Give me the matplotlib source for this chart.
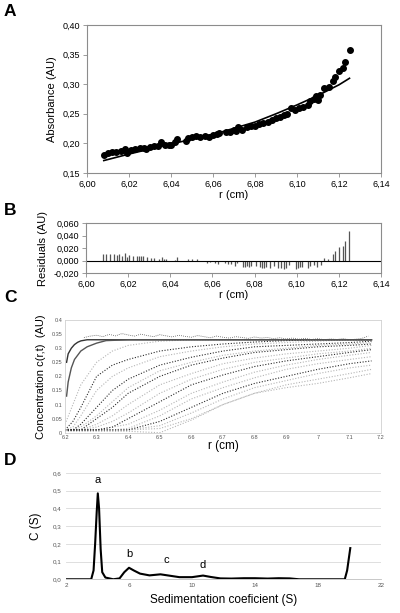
import matplotlib
matplotlib.use('Agg')
import matplotlib.pyplot as plt
from matplotlib.ticker import FuncFormatter
import matplotlib.transforms as mtransforms

plt.rcParams['font.family'] = ['Liberation Sans', 'DejaVu Sans']

# ---- panel A: absorbance scan and fit
a_r = [6.008, 6.010, 6.012, 6.014, 6.016, 6.018, 6.019, 6.021, 6.023, 6.025,
       6.027, 6.028, 6.030, 6.032, 6.034, 6.035, 6.037, 6.039, 6.040, 6.042,
       6.043, 6.047, 6.048, 6.050, 6.052, 6.054, 6.056, 6.058, 6.060, 6.062,
       6.063, 6.066, 6.068, 6.070, 6.071, 6.072, 6.074, 6.076, 6.078, 6.080,
       6.082, 6.084, 6.086, 6.088, 6.090, 6.092, 6.094, 6.095, 6.097, 6.099,
       6.101, 6.103, 6.105, 6.106, 6.108, 6.109, 6.110, 6.111, 6.113, 6.115,
       6.117, 6.118, 6.120, 6.122, 6.123, 6.125]
a_abs = [0.181, 0.183, 0.185, 0.185, 0.187, 0.190, 0.184, 0.189, 0.191, 0.192,
         0.193, 0.190, 0.194, 0.195, 0.196, 0.202, 0.198, 0.197, 0.198, 0.203,
         0.207, 0.204, 0.209, 0.211, 0.212, 0.211, 0.213, 0.211, 0.214, 0.216,
         0.217, 0.219, 0.220, 0.222, 0.221, 0.228, 0.222, 0.227, 0.230, 0.230,
         0.232, 0.235, 0.236, 0.240, 0.243, 0.245, 0.248, 0.250, 0.259, 0.256,
         0.260, 0.262, 0.265, 0.272, 0.275, 0.280, 0.274, 0.282, 0.293, 0.295,
         0.306, 0.313, 0.322, 0.328, 0.337, 0.357]
fit_r = [6.008, 6.02, 6.04, 6.06, 6.08, 6.09, 6.10, 6.11, 6.12, 6.125]
fit_abs = [0.171, 0.182, 0.199, 0.215, 0.236, 0.250, 0.265, 0.281, 0.299, 0.310]

# ---- panel B: residuals
b_r = [6.008, 6.0095, 6.0115, 6.0135, 6.0145, 6.0155, 6.0172, 6.0185, 6.0195, 6.0205,
       6.0225, 6.024, 6.025, 6.026, 6.0272, 6.029, 6.031, 6.0325, 6.0345, 6.0362,
       6.037, 6.038, 6.042, 6.043, 6.0485, 6.0505, 6.0525,
       6.0575, 6.059, 6.061, 6.0625, 6.066, 6.0675, 6.069, 6.0705, 6.0715, 6.0745,
       6.0755, 6.0765, 6.0775, 6.0785, 6.0805, 6.0825, 6.0835, 6.0845, 6.0855, 6.0875,
       6.089, 6.091, 6.0925, 6.094, 6.095, 6.0965, 6.0995, 6.1005, 6.1015, 6.1025,
       6.1055, 6.1065, 6.108, 6.1095, 6.1115,
       6.1130, 6.1150, 6.1170, 6.1180, 6.1200, 6.1220, 6.1230, 6.1250]
b_res = [0.010, 0.011, 0.010, 0.011, 0.009, 0.011, 0.008, 0.012, 0.006, 0.009,
         0.008, 0.008, 0.007, 0.008, 0.007, 0.005, 0.004, 0.004, 0.003, 0.006,
         0.002, 0.002, 0.001, 0.005, 0.003, 0.003, 0.002,
         -0.004, -0.002, -0.004, -0.005, -0.004, -0.006, -0.006, -0.008, -0.004, -0.011,
         -0.010, -0.009, -0.010, -0.009, -0.009, -0.011, -0.012, -0.012, -0.011, -0.012,
         -0.009, -0.012, -0.012, -0.013, -0.012, -0.007, -0.014, -0.012, -0.010, -0.011,
         -0.012, -0.008, -0.007, -0.011, -0.007,
         0.004, 0.002, 0.010, 0.015, 0.022, 0.024, 0.031, 0.048]

# ---- panel C: sedimentation velocity scans
c_r = [6.20, 6.225, 6.25, 6.30, 6.35, 6.40, 6.50, 6.60, 6.70, 6.80, 6.90, 7.00, 7.10, 7.17]
scans_dark = [
    [0.01, 0.04, 0.09, 0.20, 0.24, 0.26, 0.29, 0.305, 0.315, 0.322, 0.327, 0.33, 0.33, 0.33],
    [0.01, 0.01, 0.03, 0.09, 0.15, 0.19, 0.24, 0.268, 0.29, 0.305, 0.31, 0.315, 0.32, 0.325],
    [0.01, 0.01, 0.01, 0.05, 0.09, 0.14, 0.20, 0.24, 0.265, 0.285, 0.295, 0.305, 0.31, 0.315],
    [0.01, 0.01, 0.01, 0.01, 0.02, 0.05, 0.11, 0.17, 0.205, 0.235, 0.255, 0.27, 0.285, 0.295],
    [0.01, 0.01, 0.01, 0.01, 0.01, 0.01, 0.04, 0.09, 0.14, 0.175, 0.20, 0.225, 0.245, 0.255],
]
scans_light = [
    [0.03, 0.10, 0.17, 0.25, 0.29, 0.31, 0.325, 0.33, 0.33, 0.33, 0.33, 0.33, 0.33, 0.33],
    [0.01, 0.02, 0.06, 0.15, 0.20, 0.23, 0.27, 0.29, 0.305, 0.315, 0.32, 0.325, 0.33, 0.33],
    [0.01, 0.01, 0.02, 0.06, 0.11, 0.16, 0.22, 0.25, 0.275, 0.29, 0.30, 0.31, 0.315, 0.32],
    [0.01, 0.01, 0.01, 0.03, 0.06, 0.10, 0.17, 0.21, 0.245, 0.265, 0.28, 0.29, 0.30, 0.31],
    [0.01, 0.01, 0.01, 0.02, 0.04, 0.07, 0.14, 0.19, 0.225, 0.25, 0.265, 0.28, 0.29, 0.30],
    [0.01, 0.01, 0.01, 0.01, 0.02, 0.03, 0.08, 0.14, 0.18, 0.215, 0.24, 0.26, 0.275, 0.285],
    [0.01, 0.01, 0.01, 0.01, 0.01, 0.015, 0.06, 0.12, 0.16, 0.195, 0.225, 0.245, 0.26, 0.27],
    [0.01, 0.01, 0.01, 0.01, 0.01, 0.01, 0.025, 0.07, 0.12, 0.16, 0.185, 0.21, 0.23, 0.24],
    [0.01, 0.01, 0.01, 0.01, 0.01, 0.01, 0.015, 0.05, 0.10, 0.14, 0.17, 0.19, 0.21, 0.225],
    [0.005, 0.005, 0.005, 0.005, 0.005, 0.005, 0.0, 0.045, 0.10, 0.14, 0.16, 0.175, 0.195, 0.21],
]
first_r = [6.205, 6.21, 6.22, 6.23, 6.24, 6.25, 6.27, 6.30, 6.35, 7.17]
first_c = [0.25, 0.28, 0.30, 0.313, 0.321, 0.326, 0.33, 0.33, 0.33, 0.33]
second_r = [6.205, 6.21, 6.22, 6.23, 6.25, 6.27, 6.30, 6.33, 6.40, 7.17]
second_c = [0.13, 0.18, 0.23, 0.26, 0.29, 0.305, 0.318, 0.327, 0.33, 0.33]
top_r = [6.26, 6.28, 6.30, 6.32, 6.34, 6.36, 6.38, 6.40, 6.42, 6.44, 6.46, 6.48, 6.50,
         6.52, 6.54, 6.56, 6.58, 6.60, 6.62, 6.64, 6.66, 6.68, 6.70, 6.72, 6.74, 6.76,
         6.78, 6.80, 6.82, 6.84, 6.86, 6.88, 6.90, 6.92, 6.94, 6.96, 6.98, 7.00, 7.02,
         7.04, 7.06, 7.08, 7.10, 7.12, 7.14, 7.16]
top_c = [0.338, 0.343, 0.346, 0.341, 0.349, 0.344, 0.352, 0.347, 0.343, 0.350, 0.345, 0.341, 0.348,
         0.344, 0.340, 0.346, 0.342, 0.339, 0.345, 0.341, 0.337, 0.343, 0.339, 0.336, 0.341, 0.338,
         0.335, 0.340, 0.336, 0.338, 0.334, 0.337, 0.333, 0.336, 0.332, 0.335, 0.331, 0.334, 0.330,
         0.333, 0.331, 0.334, 0.330, 0.332, 0.335, 0.343]

# ---- panel D: c(s) distribution
d_s = [2.0, 3.6, 3.75, 3.85, 3.95, 4.02, 4.1, 4.2, 4.3, 4.5, 5.0, 5.4, 5.7, 6.0, 6.3,
       6.7, 7.3, 8.0, 8.6, 9.2, 10.0, 10.7, 11.2, 11.8, 12.5, 13.3, 14.0, 14.8, 15.5,
       16.2, 16.8, 19.7, 19.85, 20.05]
d_c = [0.0, 0.0, 0.05, 0.20, 0.38, 0.485, 0.40, 0.17, 0.04, 0.01, 0.0, 0.005, 0.04, 0.065, 0.05,
       0.032, 0.022, 0.028, 0.020, 0.012, 0.012, 0.021, 0.013, 0.005, 0.004, 0.006, 0.006, 0.004, 0.006,
       0.005, 0.0, 0.0, 0.05, 0.176]
peak_names = ['a', 'b', 'c', 'd']
peak_s = [4.0, 6.0, 8.4, 10.65]
peak_c = [0.53, 0.115, 0.08, 0.052]

frame = '#8c8c8c'
comma2 = FuncFormatter(lambda v, p: ('%.2f' % v).replace('.', ','))
comma3 = FuncFormatter(lambda v, p: ('%.3f' % v).replace('.', ','))
comma1 = FuncFormatter(lambda v, p: ('%.1f' % v).replace('.', ','))

fig = plt.figure(figsize=(4.0, 6.13), dpi=100)

# A
axA = fig.add_axes([0.2175, 0.7178, 0.735, 0.2414])
axA.plot(fit_r, fit_abs, color='black', lw=1.2)
axA.scatter(a_r, a_abs, s=16, color='black', zorder=3)
axA.set_xlim(6.0, 6.14)
axA.set_ylim(0.15, 0.40)
axA.set_xticks([6.00, 6.02, 6.04, 6.06, 6.08, 6.10, 6.12, 6.14])
axA.set_yticks([0.15, 0.20, 0.25, 0.30, 0.35, 0.40])
axA.xaxis.set_major_formatter(comma2)
axA.yaxis.set_major_formatter(comma2)
axA.set_xlabel('r (cm)', fontsize=8, labelpad=1)
axA.set_ylabel('Absorbance (AU)', fontsize=8, labelpad=4)

# B
axB = fig.add_axes([0.215, 0.5546, 0.7375, 0.0816])
axB.vlines(b_r, 0, b_res, colors='#555555', lw=0.9)
axB.axhline(0, color='black', lw=0.8)
axB.set_xlim(6.0, 6.14)
axB.set_ylim(-0.020, 0.060)
axB.set_xticks([6.00, 6.02, 6.04, 6.06, 6.08, 6.10, 6.12, 6.14])
axB.set_yticks([-0.02, 0.0, 0.02, 0.04, 0.06])
axB.xaxis.set_major_formatter(comma2)
axB.yaxis.set_major_formatter(comma3)
shift = mtransforms.ScaledTranslation(8 / 100, 0, fig.dpi_scale_trans)
for lab in axB.get_xticklabels():
    lab.set_transform(lab.get_transform() + shift)
axB.set_xlabel('r (cm)', fontsize=8, labelpad=1)
axB.set_ylabel('Residuals (AU)', fontsize=8, labelpad=4)

for ax in (axA, axB):
    for sp in ax.spines.values():
        sp.set_color(frame)
        sp.set_linewidth(0.8)
    ax.tick_params(labelsize=6.5, length=3, width=0.6, color=frame, pad=2)

# C
axC = fig.add_axes([0.1625, 0.2941, 0.79, 0.1838])
for sc in scans_light:
    axC.plot(c_r, sc, color='#b5b5b5', lw=0.8, ls=(0, (1, 1.5)))
for sc in scans_dark:
    axC.plot(c_r, sc, color='#2a2a2a', lw=0.8, ls=(0, (1, 1.5)))
axC.plot(top_r, top_c, color='#333333', lw=0.6, ls=(0, (0.8, 1.6)))
axC.plot(first_r, first_c, color='#333333', lw=1.0)
axC.plot(second_r, second_c, color='#555555', lw=1.0)
axC.set_xlim(6.2, 7.2)
axC.set_ylim(0, 0.4)
axC.set_xticks([6.2, 6.3, 6.4, 6.5, 6.6, 6.7, 6.8, 6.9, 7.0, 7.1, 7.2])
axC.set_xticklabels(['6.2', '6.3', '6.4', '6.5', '6.6', '6.7', '6.8', '6.9', '7', '7.1', '7.2'])
axC.set_yticks([0, 0.05, 0.1, 0.15, 0.2, 0.25, 0.3, 0.35, 0.4])
axC.set_yticklabels(['0', '0.05', '0.1', '0.15', '0.2', '0.25', '0.3', '0.35', '0.4'])
for sp in axC.spines.values():
    sp.set_color('#d0d0d0')
    sp.set_linewidth(0.6)
axC.tick_params(labelsize=4, length=0, pad=2, labelcolor='#555555')
axC.set_xlabel('r (cm)', fontsize=8.5, labelpad=0)
axC.set_ylabel('Concentration c(r,t)  (AU)', fontsize=8, labelpad=4)

# D
axD = fig.add_axes([0.165, 0.055, 0.7875, 0.1734])
axD.plot(d_s, d_c, color='black', lw=1.5)
for name, s, c in zip(peak_names, peak_s, peak_c):
    axD.text(s, c, name, fontsize=8, ha='center', va='bottom')
axD.set_xlim(2, 22)
axD.set_ylim(0, 0.6)
axD.set_xticks([2, 6, 10, 14, 18, 22])
axD.set_yticks([0, 0.1, 0.2, 0.3, 0.4, 0.5, 0.6])
axD.yaxis.set_major_formatter(comma1)
axD.grid(axis='y', color='#d9d9d9', lw=0.6)
axD.set_axisbelow(True)
for k in ('top', 'right', 'left'):
    axD.spines[k].set_visible(False)
axD.spines['bottom'].set_color('#bfbfbf')
axD.spines['bottom'].set_linewidth(0.6)
axD.tick_params(labelsize=4.5, length=0, pad=3, labelcolor='#555555')
axD.set_xlabel('Sedimentation coeficient (S)', fontsize=8.5, labelpad=4)
axD.set_ylabel('C (S)', fontsize=8.5, labelpad=8)

# panel letters
for letter, ypx in (('A', 4), ('B', 203), ('C', 290), ('D', 453)):
    fig.text(0.01, 1 - ypx / 613, letter, fontsize=12.5, fontweight='bold', va='top', ha='left')

fig.savefig('out.png', dpi=100)
